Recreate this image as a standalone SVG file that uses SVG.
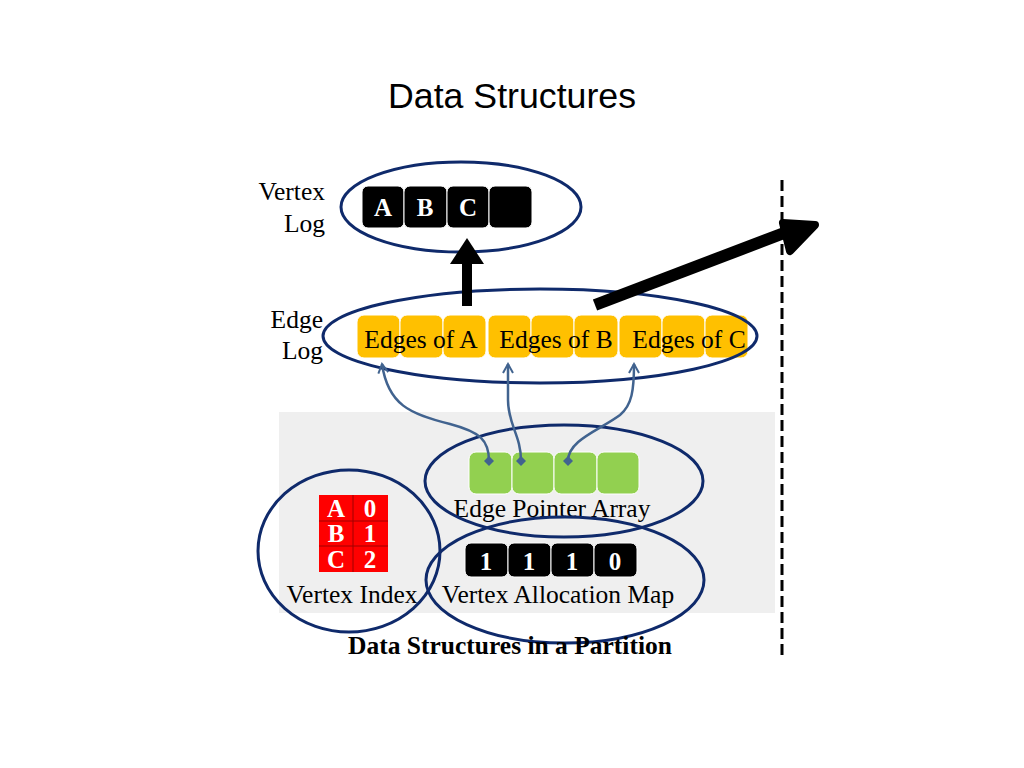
<svg xmlns="http://www.w3.org/2000/svg" width="1024" height="768" viewBox="0 0 1024 768">
<defs>
<style>
.lbl{font-family:"Liberation Serif","Times New Roman",serif;font-size:25.5px;fill:#000}
.bw{font-family:"Liberation Serif","Times New Roman",serif;font-size:25px;font-weight:bold;fill:#fff;text-anchor:middle}
.ell{fill:none;stroke:#0f2a6b;stroke-width:3}
.blk{fill:#000;stroke:#fff;stroke-width:1}
.yel{fill:#ffc000;stroke:#fff;stroke-width:1}
.grn{fill:#92d050;stroke:#fff;stroke-width:1}
.ptr{fill:none;stroke:#41638f;stroke-width:2.5}
</style>
<marker id="ah" viewBox="0 0 12 12" refX="10" refY="6" markerWidth="12" markerHeight="12" markerUnits="userSpaceOnUse" orient="auto">
<path d="M1,1 L10,6 L1,11" fill="none" stroke="#41638f" stroke-width="2"/>
</marker>
<marker id="dm" viewBox="0 0 10 10" refX="5" refY="5" markerWidth="10" markerHeight="10" markerUnits="userSpaceOnUse" orient="auto">
<path d="M0,5 L5,0 L10,5 L5,10 Z" fill="#41638f"/>
</marker>
</defs>
<rect width="1024" height="768" fill="#fff"/>
<text x="512" y="108" font-family="'Liberation Sans',Arial,sans-serif" font-size="35" text-anchor="middle" textLength="248" lengthAdjust="spacingAndGlyphs">Data Structures</text>

<rect id="partition" x="279" y="412" width="496" height="201" fill="#efefef"/>
<line id="boundary" x1="782" y1="180" x2="782" y2="656" stroke="#000" stroke-width="3" stroke-dasharray="11,5"/>

<g id="vertex-log">
<text class="lbl" x="325" y="200" text-anchor="end">Vertex</text>
<text class="lbl" x="325" y="232" text-anchor="end">Log</text>
<rect class="blk" x="362" y="186" width="42" height="42" rx="6"/>
<rect class="blk" x="404" y="186" width="43" height="42" rx="6"/>
<rect class="blk" x="447" y="186" width="42" height="42" rx="6"/>
<rect class="blk" x="489" y="186" width="43" height="42" rx="6"/>
<text class="bw" x="383" y="216">A</text>
<text class="bw" x="425" y="216">B</text>
<text class="bw" x="468" y="216">C</text>
<ellipse class="ell" cx="461" cy="207" rx="120" ry="45"/>
</g>

<g id="edge-log">
<text class="lbl" x="323" y="328" text-anchor="end">Edge</text>
<text class="lbl" x="323" y="359" text-anchor="end">Log</text>
<rect class="yel" x="357" y="315" width="43" height="43" rx="7"/>
<rect class="yel" x="400" y="315" width="43" height="43" rx="7"/>
<rect class="yel" x="443" y="315" width="43" height="43" rx="7"/>
<rect class="yel" x="488" y="315" width="43" height="43" rx="7"/>
<rect class="yel" x="531" y="315" width="43" height="43" rx="7"/>
<rect class="yel" x="574" y="315" width="44" height="43" rx="7"/>
<rect class="yel" x="619" y="315" width="43" height="43" rx="7"/>
<rect class="yel" x="662" y="315" width="43" height="43" rx="7"/>
<rect class="yel" x="705" y="315" width="43" height="43" rx="7"/>
<text class="lbl" x="421" y="348" text-anchor="middle">Edges of A</text>
<text class="lbl" x="556" y="348" text-anchor="middle">Edges of B</text>
<text class="lbl" x="689" y="348" text-anchor="middle">Edges of C</text>
<ellipse class="ell" cx="540" cy="336" rx="217" ry="47"/>
</g>

<g id="edge-pointer-array">
<rect class="grn" x="469" y="452" width="43" height="42" rx="7"/>
<rect class="grn" x="512" y="452" width="42" height="42" rx="7"/>
<rect class="grn" x="554" y="452" width="43" height="42" rx="7"/>
<rect class="grn" x="597" y="452" width="42" height="42" rx="7"/>
<text class="lbl" x="552" y="517" text-anchor="middle">Edge Pointer Array</text>
<ellipse class="ell" cx="564" cy="481" rx="139" ry="56"/>
</g>

<g id="vertex-allocation-map">
<rect class="blk" x="465" y="543" width="43" height="34" rx="6"/>
<rect class="blk" x="508" y="543" width="43" height="34" rx="6"/>
<rect class="blk" x="551" y="543" width="43" height="34" rx="6"/>
<rect class="blk" x="594" y="543" width="43" height="34" rx="6"/>
<text class="bw" x="486" y="570">1</text>
<text class="bw" x="529" y="570">1</text>
<text class="bw" x="572" y="570">1</text>
<text class="bw" x="615" y="570">0</text>
<text class="lbl" x="558" y="603" text-anchor="middle">Vertex Allocation Map</text>
<ellipse class="ell" cx="565" cy="580" rx="139" ry="63"/>
</g>

<g id="vertex-index">
<rect x="319" y="495" width="69" height="77" fill="#ff0000"/>
<path d="M353,495 V572 M319,521 H388 M319,546 H388" stroke="#a00000" stroke-width="1"/>
<text class="bw" x="336" y="517">A</text>
<text class="bw" x="370" y="517">0</text>
<text class="bw" x="336" y="542">B</text>
<text class="bw" x="370" y="542">1</text>
<text class="bw" x="336" y="568">C</text>
<text class="bw" x="370" y="568">2</text>
<text class="lbl" x="352" y="603" text-anchor="middle">Vertex Index</text>
<ellipse class="ell" cx="349" cy="551" rx="91" ry="81"/>
</g>

<g id="connectors">
<path class="ptr" d="M489,461 C489,440 480,432 450,424 C410,414 388,405 382,364" marker-start="url(#dm)" marker-end="url(#ah)"/>
<path class="ptr" d="M521,461 C521,435 508,425 508,400 L508,364" marker-start="url(#dm)" marker-end="url(#ah)"/>
<path class="ptr" d="M568,461 C568,440 600,430 620,415 C632,405 634,390 634,364" marker-start="url(#dm)" marker-end="url(#ah)"/>
<line x1="467" y1="306" x2="467" y2="262" stroke="#000" stroke-width="10"/>
<polygon points="450,264 467,238 484,264" fill="#000"/>
<line x1="595" y1="305" x2="792" y2="230" stroke="#000" stroke-width="12"/>
<polygon points="783,223 815,225 790,251" fill="#000" stroke="#000" stroke-width="8" stroke-linejoin="round"/>
</g>

<text x="510" y="654" font-family="'Liberation Serif','Times New Roman',serif" font-size="25.5" font-weight="bold" text-anchor="middle">Data Structures in a Partition</text>
</svg>
